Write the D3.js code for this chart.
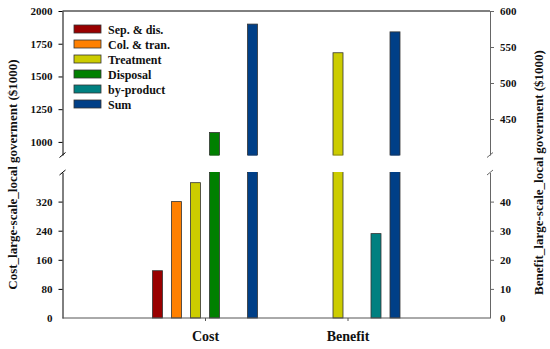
<!DOCTYPE html>
<html><head><meta charset="utf-8">
<script src="https://cdn.jsdelivr.net/npm/d3@7"></script>
<style>
body{margin:0;background:#fff;}
svg text{font-family:"Liberation Serif","Times New Roman",serif;font-weight:bold;}
</style></head>
<body><svg id="c" width="550" height="349"></svg>
<script>
const categories = ['Cost', 'Benefit'];
const series = ['Sep. & dis.', 'Col. & tran.', 'Treatment', 'Disposal', 'by-product', 'Sum'];
const colors = ['#990000', '#ff8000', '#cccc00', '#008000', '#008080', '#003f87'];
const costValues = [130, 320, 372, 1072, null, 1900];
const benefitValues = [null, null, 542, null, 29, 571];
const leftUpperTicks = [1000, 1250, 1500, 1750, 2000];
const leftLowerTicks = [0, 80, 160, 240, 320];
const rightUpperTicks = [450, 500, 550, 600];
const rightLowerTicks = [0, 10, 20, 30, 40];

const SERIF = '"Liberation Serif","Times New Roman",serif';
const svg = d3.select('#c');
const L = 62.5, R = 490, TOP = 11, UB = 155, LT = 172.5, BOT = 318;

const x = d3.scalePoint().domain(categories).range([L, R]).padding(1);
const sub = d3.scaleBand().domain(series).range([-57, 57]).paddingInner(9/19).paddingOuter(9/38);

const yLU = d3.scaleLinear().domain([900, 2000]).range([UB, TOP]);
const yLL = d3.scaleLinear().domain([0, 400]).range([BOT, LT]);
const yRU = d3.scaleLinear().domain([400, 600]).range([UB, TOP]);
const yRL = d3.scaleLinear().domain([0, 50]).range([BOT, LT]);

const scales = {Cost: [yLL, yLU], Benefit: [yRL, yRU]};
const data = {Cost: costValues, Benefit: benefitValues};

// bars
categories.forEach(cat => {
  const [lo, up] = scales[cat];
  data[cat].forEach((v, i) => {
    if (v == null) return;
    const bx = x(cat) + sub(series[i]);
    const w = sub.bandwidth();
    const loMax = lo.domain()[1];
    if (v <= loMax) {
      svg.append('rect').attr('x', bx).attr('y', lo(v)).attr('width', w).attr('height', lo(0) - lo(v))
        .attr('fill', colors[i]).attr('stroke', '#333').attr('stroke-width', 0.8);
    } else {
      svg.append('rect').attr('x', bx).attr('y', lo(loMax)).attr('width', w).attr('height', lo(0) - lo(loMax))
        .attr('fill', colors[i]).attr('stroke', '#333').attr('stroke-width', 0.8);
      svg.append('rect').attr('x', bx).attr('y', up(v)).attr('width', w).attr('height', up(up.domain()[0]) - up(v))
        .attr('fill', colors[i]).attr('stroke', '#333').attr('stroke-width', 0.8);
      svg.append('line').attr('x1', bx + 0.4).attr('x2', bx + w - 0.4).attr('y1', lo(loMax)).attr('y2', lo(loMax)).attr('stroke', colors[i]).attr('stroke-width', 1);
      svg.append('line').attr('x1', bx + 0.4).attr('x2', bx + w - 0.4).attr('y1', UB).attr('y2', UB).attr('stroke', colors[i]).attr('stroke-width', 1);
    }
  });
});

function styleAxis(g, col) {
  g.attr('font-family', SERIF);
  g.selectAll('path').attr('stroke', col);
  g.selectAll('line').attr('stroke', col);
  g.selectAll('text').attr('font-size', 11).attr('fill', '#111')
    .attr('font-family', SERIF).attr('font-weight', 'bold');
}
const fmt = d3.format('d');

// left axes
const gLU = svg.append('g').attr('transform', `translate(${L},0)`)
  .call(d3.axisLeft(yLU).tickValues(leftUpperTicks).tickFormat(fmt).tickSize(4).tickPadding(6).tickSizeOuter(0));
styleAxis(gLU, '#000');
const gLL = svg.append('g').attr('transform', `translate(${L},0)`)
  .call(d3.axisLeft(yLL).tickValues(leftLowerTicks).tickFormat(fmt).tickSize(4).tickPadding(6).tickSizeOuter(0));
styleAxis(gLL, '#000');
gLL.select('.tick line').remove();

// right axes
const gRU = svg.append('g').attr('transform', `translate(${R},0)`)
  .call(d3.axisRight(yRU).tickValues(rightUpperTicks).tickFormat(fmt).tickSize(4).tickPadding(6).tickSizeOuter(0));
styleAxis(gRU, '#666');
const gRL = svg.append('g').attr('transform', `translate(${R},0)`)
  .call(d3.axisRight(yRL).tickValues(rightLowerTicks).tickFormat(fmt).tickSize(4).tickPadding(6).tickSizeOuter(0));
styleAxis(gRL, '#666');
gRL.select('.tick line').remove();

// top border
svg.append('line').attr('x1', L).attr('x2', R).attr('y1', TOP).attr('y2', TOP).attr('stroke', '#000');

// bottom axis
const gX = svg.append('g').attr('transform', `translate(0,${BOT})`)
  .call(d3.axisBottom(x).tickSize(3).tickPadding(10).tickSizeOuter(0));
gX.attr('font-family', SERIF);
gX.select('path').attr('stroke', '#555').attr('d', `M${L},0H${R}`);
gX.selectAll('line').attr('stroke', '#555');
gX.selectAll('text').attr('font-size', 14).attr('fill', '#111')
  .attr('font-family', SERIF).attr('font-weight', 'bold');

// break marks
[[L, '#000'], [R, '#666']].forEach(([ax, col]) => {
  [UB, LT].forEach(yy => {
    svg.append('line').attr('x1', ax - 3).attr('y1', yy + 2.5).attr('x2', ax + 3).attr('y2', yy - 2.5)
      .attr('stroke', col).attr('stroke-width', 1);
  });
});

// axis titles
svg.append('text').attr('transform', `translate(17,${(TOP + BOT) / 2 + 10}) rotate(-90)`)
  .attr('text-anchor', 'middle').attr('font-size', 13).attr('fill', '#111')
  .attr('font-family', SERIF).attr('font-weight', 'bold')
  .text('Cost_large-scale_local goverment ($1000)');
svg.append('text').attr('transform', `translate(543,${(TOP + BOT) / 2 + 8}) rotate(-90)`)
  .attr('text-anchor', 'middle').attr('font-size', 13).attr('fill', '#111')
  .attr('font-family', SERIF).attr('font-weight', 'bold')
  .text('Benefit_large-scale_local goverment ($1000)');

// legend
const leg = svg.append('g').attr('transform', 'translate(74,25)');
series.forEach((s, i) => {
  const g = leg.append('g').attr('transform', `translate(0,${i * 15})`);
  g.append('rect').attr('width', 27).attr('height', 8).attr('fill', colors[i]).attr('stroke', '#333').attr('stroke-width', 0.8);
  g.append('text').attr('x', 34).attr('y', 8.5).attr('font-size', 12).attr('fill', '#111')
    .attr('font-family', SERIF).attr('font-weight', 'bold').text(s);
});
</script></body></html>
